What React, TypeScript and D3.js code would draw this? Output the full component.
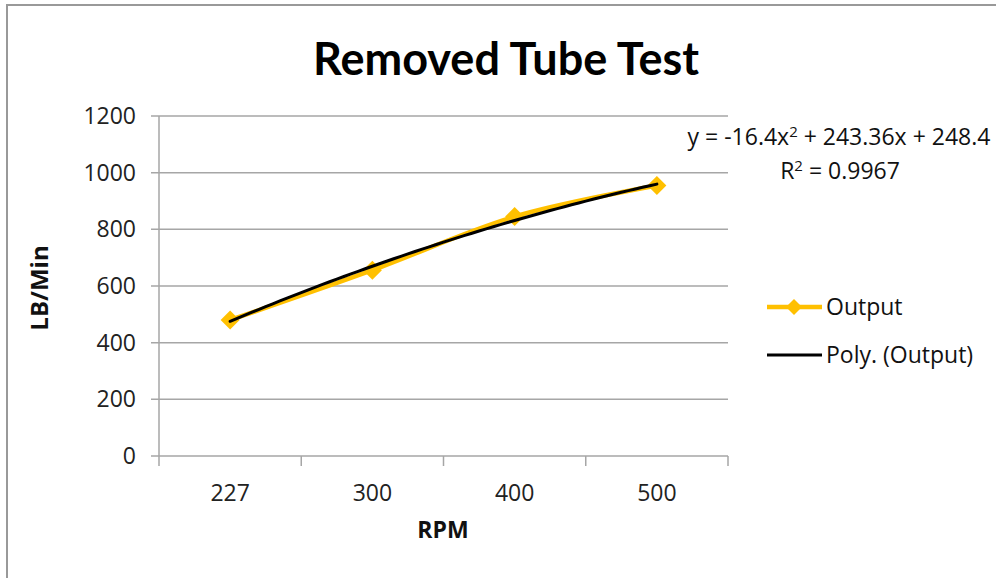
import React from "react";
import * as d3 from "d3";

const categories = ["227", "300", "400", "500"];
const outputValues = [480, 656, 845, 955];
const yTicks = [0, 200, 400, 600, 800, 1000, 1200];
const equationText = ["y = -16.4x", "2", " + 243.36x + 248.4"];
const r2Text = ["R", "2", " = 0.9967"];

const W = 996;
const H = 578;
const ORANGE = "#FFC000";
const GRID = "#A6A6A6";
const FONT = "'Open Sans', 'Liberation Sans', sans-serif";

// least squares quadratic fit y = a x^2 + b x + c, x = 1..n
function polyFit(ys: number[]) {
  const xs = ys.map((_, i) => i + 1);
  const S = (p: number) => d3.sum(xs, (x) => Math.pow(x, p));
  const T = (p: number) => d3.sum(xs, (x, i) => Math.pow(x, p) * ys[i]);
  const A = [
    [S(4), S(3), S(2), T(2)],
    [S(3), S(2), S(1), T(1)],
    [S(2), S(1), S(0), T(0)],
  ];
  for (let i = 0; i < 3; i++) {
    for (let j = i + 1; j < 3; j++) {
      const f = A[j][i] / A[i][i];
      for (let k = i; k < 4; k++) A[j][k] -= f * A[i][k];
    }
  }
  const sol = [0, 0, 0];
  for (let i = 2; i >= 0; i--) {
    let s = A[i][3];
    for (let k = i + 1; k < 3; k++) s -= A[i][k] * sol[k];
    sol[i] = s / A[i][i];
  }
  return sol;
}

export default function App() {
  const left = 159;
  const right = 728;
  const top = 116;
  const bottom = 456;

  const x = d3.scaleBand<string>().domain(categories).range([left, right]);
  const xc = (c: string) => (x(c) as number) + x.bandwidth() / 2;
  const y = d3.scaleLinear().domain([0, 1200]).range([bottom, top]);

  const [a, b, c] = polyFit(outputValues);
  const xIdx = d3.scaleLinear().domain([1, categories.length]).range([xc(categories[0]), xc(categories[categories.length - 1])]);
  const trendPts = d3.range(1, categories.length + 0.001, 0.05).map((t) => [xIdx(t), y(a * t * t + b * t + c)] as [number, number]);
  const lineGen = d3.line<[number, number]>().curve(d3.curveLinear);
  const dataPts = outputValues.map((v, i) => [xc(categories[i]), y(v)] as [number, number]);
  const dataLine = d3.line<[number, number]>().curve(d3.curveCatmullRom.alpha(0.5));

  const diamond = (cx: number, cy: number, r: number) =>
    `M${cx},${cy - r}L${cx + r},${cy}L${cx},${cy + r}L${cx - r},${cy}Z`;

  const tickEdges = [...categories.map((cat) => x(cat) as number), right];

  return (
    <svg width={W} height={H} style={{ position: "absolute", left: 0, top: 0, background: "#fff" }} fontFamily={FONT}>
      <rect x={0} y={0} width={W} height={H} fill="#fff" />
      {/* outer border */}
      <line x1={6} y1={5} x2={W} y2={5} stroke="#999" strokeWidth={2} />
      <line x1={7} y1={5} x2={7} y2={H} stroke="#999" strokeWidth={2} />

      {/* title */}
      <text x={506} y={75} textAnchor="middle" fontSize={45} fontWeight="bold" fill="#000" fontFamily="Lato, 'Open Sans', sans-serif">
        Removed Tube Test
      </text>

      {/* grid */}
      {yTicks.map((t) => (
        <g key={t}>
          <line x1={left - 8} x2={right} y1={y(t)} y2={y(t)} stroke={GRID} strokeWidth={1.5} />
          <text x={136} y={y(t)} dy="0.35em" textAnchor="end" fontSize={23} fill="#222">
            {t}
          </text>
        </g>
      ))}
      <line x1={left} x2={left} y1={top} y2={bottom} stroke={GRID} strokeWidth={1.5} />
      {tickEdges.map((tx, i) => (
        <line key={i} x1={tx} x2={tx} y1={bottom} y2={bottom + 10} stroke={GRID} strokeWidth={1.5} />
      ))}
      {categories.map((cat) => (
        <text key={cat} x={xc(cat)} y={493} dy="0.35em" textAnchor="middle" fontSize={23} fill="#222">
          {cat}
        </text>
      ))}

      {/* axis titles */}
      <text x={443} y={530} dy="0.35em" textAnchor="middle" fontSize={23} fontWeight="bold" fill="#111">
        RPM
      </text>
      <text transform={`translate(40,${288}) rotate(-90)`} textAnchor="middle" dy="0.35em" fontSize={24} fontWeight="bold" fill="#111">
        LB/Min
      </text>

      {/* data series */}
      <path d={dataLine(dataPts) || ""} fill="none" stroke={ORANGE} strokeWidth={4.5} />
      {dataPts.map(([px, py], i) => (
        <path key={i} d={diamond(px, py, 9.5)} fill={ORANGE} />
      ))}
      {/* trendline */}
      <path d={lineGen(trendPts) || ""} fill="none" stroke="#000" strokeWidth={3} strokeLinecap="round" />

      {/* equation */}
      <text x={839} y={137} dy="0.35em" textAnchor="middle" fontSize={23} fill="#111">
        {equationText[0]}
        <tspan dy={-8} fontSize={15}>{equationText[1]}</tspan>
        <tspan dy={8}>{equationText[2]}</tspan>
      </text>
      <text x={840} y={171} dy="0.35em" textAnchor="middle" fontSize={23} fill="#111">
        {r2Text[0]}
        <tspan dy={-8} fontSize={15}>{r2Text[1]}</tspan>
        <tspan dy={8}>{r2Text[2]}</tspan>
      </text>

      {/* legend */}
      <line x1={767} x2={822} y1={307} y2={307} stroke={ORANGE} strokeWidth={4.5} />
      <path d={diamond(794, 307, 8)} fill={ORANGE} />
      <text x={826} y={307} dy="0.35em" fontSize={23} fill="#111">Output</text>
      <line x1={767} x2={822} y1={355} y2={355} stroke="#000" strokeWidth={3} />
      <text x={826} y={355} dy="0.35em" fontSize={23} fill="#111">Poly. (Output)</text>
    </svg>
  );
}
